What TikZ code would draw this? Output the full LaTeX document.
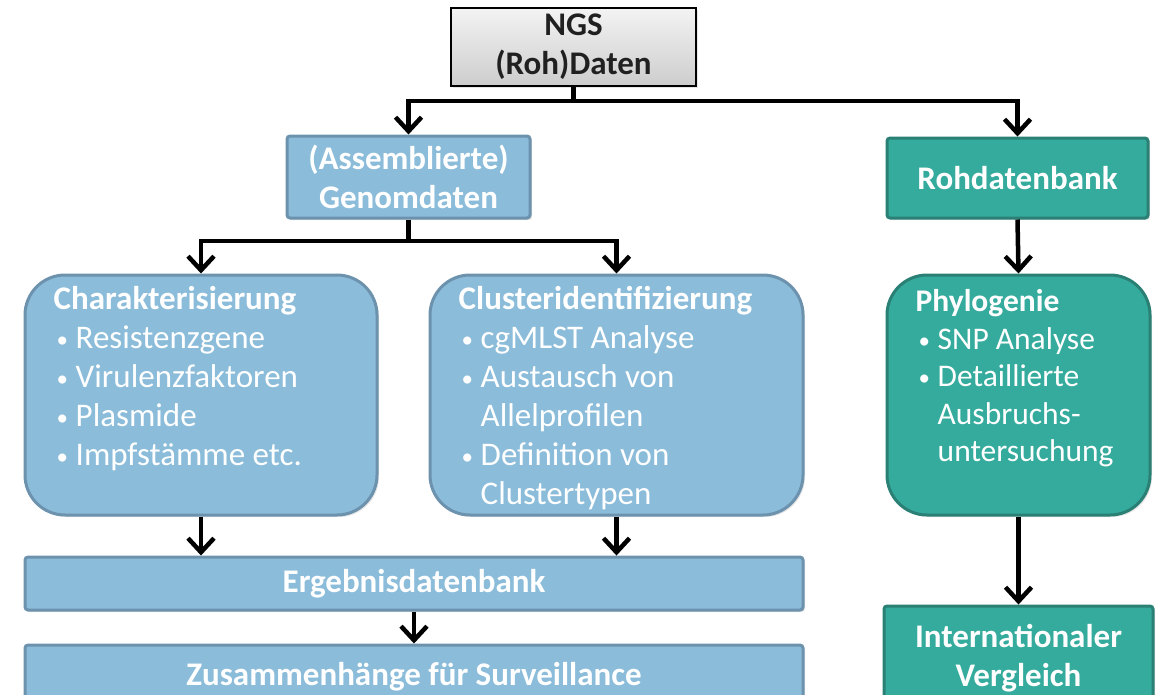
\documentclass[tikz,border=0pt]{standalone}
\usepackage{fontspec}
\setmainfont{Carlito}
\usepackage{tikz}
\usetikzlibrary{arrows.meta, positioning, shadows}
\definecolor{boxblue}{RGB}{139,188,218}
\definecolor{edgeblue}{RGB}{108,146,173}
\definecolor{boxteal}{RGB}{53,171,157}
\definecolor{edgeteal}{RGB}{42,128,117}
\definecolor{graytop}{RGB}{243,243,243}
\definecolor{graybot}{RGB}{205,205,205}
\definecolor{inkdark}{RGB}{32,32,32}
\newcommand{\bitem}[1]{\makebox[22pt][l]{\hspace{3pt}\raisebox{1pt}{\fontsize{23pt}{23pt}\selectfont\textbullet}}#1}
\newcommand{\bcont}[1]{\hspace*{22pt}#1}

\begin{document}
\begin{tikzpicture}[x=1pt, y=-1pt,
    txt/.style={font=\fontsize{33pt}{39pt}\selectfont},
    headtxt/.style={font=\fontsize{33pt}{39pt}\selectfont\bfseries},
    shade/.style={drop shadow={opacity=0.2, shadow xshift=2pt, shadow yshift=-2pt}},
    bluebox/.style={headtxt, draw=edgeblue, line width=3pt, fill=boxblue, text=white, shade, rounded corners=3pt},
    tealbox/.style={headtxt, draw=edgeteal, line width=3pt, fill=boxteal, text=white, shade, rounded corners=3pt},
    listtxt/.style={txt, text=white, align=left, inner sep=0pt, anchor=north west},
    arr/.style={line width=4.5pt, -{Straight Barb[length=14pt, width=26pt]}},
    link/.style={line width=4.5pt}]
  \useasboundingbox (0,0) rectangle (1156,694);
  \clip (0,0) rectangle (1156,694);

  % top
  \node[headtxt, draw=black, line width=2pt, top color=graytop, bottom color=graybot,
        text=inkdark, align=center, shade,
        minimum width=245pt, minimum height=78pt] (ngs) at (573.5,47) {NGS\\(Roh)Daten};

  % second row
  \node[bluebox, align=center, minimum width=243pt, minimum height=82pt]
    (assem) at (408.5,177) {(Assemblierte)\\Genomdaten};
  \node[tealbox, minimum width=261pt, minimum height=80pt]
    (rohdb) at (1017.5,178) {Rohdatenbank};

  % analysis boxes
  \node[bluebox, rounded corners=40pt, minimum width=352pt, minimum height=240pt] (char) at (201,395) {};
  \node[bluebox, rounded corners=40pt, minimum width=373pt, minimum height=240pt] (clus) at (616.5,395) {};
  \node[tealbox, rounded corners=40pt, minimum width=263pt, minimum height=240pt] (phylo) at (1018.5,395) {};

  \node[listtxt, below right=13pt and 30pt of char.north west] (chartxt)
    {\textbf{Charakterisierung}\\\bitem{Resistenzgene}\\\bitem{Virulenzfaktoren}\\\bitem{Plasmide}\\\bitem{Impfstämme etc.}};
  \node[listtxt, below right=13pt and 30pt of clus.north west] (clustxt)
    {\textbf{Clusteridentifizierung}\\\bitem{cgMLST Analyse}\\\bitem{Austausch von}\\\bcont{Allelprofilen}\\\bitem{Definition von}\\\bcont{Clustertypen}};
  \node[listtxt, font=\fontsize{31.5pt}{37.5pt}\selectfont, below right=16pt and 30pt of phylo.north west] (phylotxt)
    {\textbf{Phylogenie}\\\bitem{SNP Analyse}\\\bitem{Detaillierte}\\\bcont{Ausbruchs-}\\\bcont{untersuchung}};

  % bottom
  \node[bluebox, minimum width=778pt, minimum height=53pt] (ergeb) at (414,583.5) {Ergebnisdatenbank};
  \node[bluebox, minimum width=778pt, minimum height=64pt] (zus) at (414,677) {Zusammenhänge für Surveillance};
  \node[tealbox, align=center, minimum width=269pt, minimum height=105pt]
    (intl) at (1018.5,658.5) {Internationaler\\Vergleich};

  % connectors
  \coordinate (split1) at (573.5,101);
  \coordinate (split2) at (408.5,241);
  \draw[link] (ngs.south) -- (split1);
  \draw[arr] (split1) -| (assem.north);
  \draw[arr] (split1) -| (rohdb.north);
  \draw[link] (assem.south) -- (split2);
  \draw[arr] (split2) -| (char.north);
  \draw[arr] (split2) -| (clus.north);
  \draw[arr] (rohdb.south) -- (phylo.north);
  \draw[arr] (char.south) -- (char.south |- ergeb.north);
  \draw[arr] (clus.south) -- (clus.south |- ergeb.north);
  \draw[arr] (ergeb.south) -- (zus.north);
  \draw[arr] (phylo.south) -- (intl.north);
\end{tikzpicture}
\end{document}
